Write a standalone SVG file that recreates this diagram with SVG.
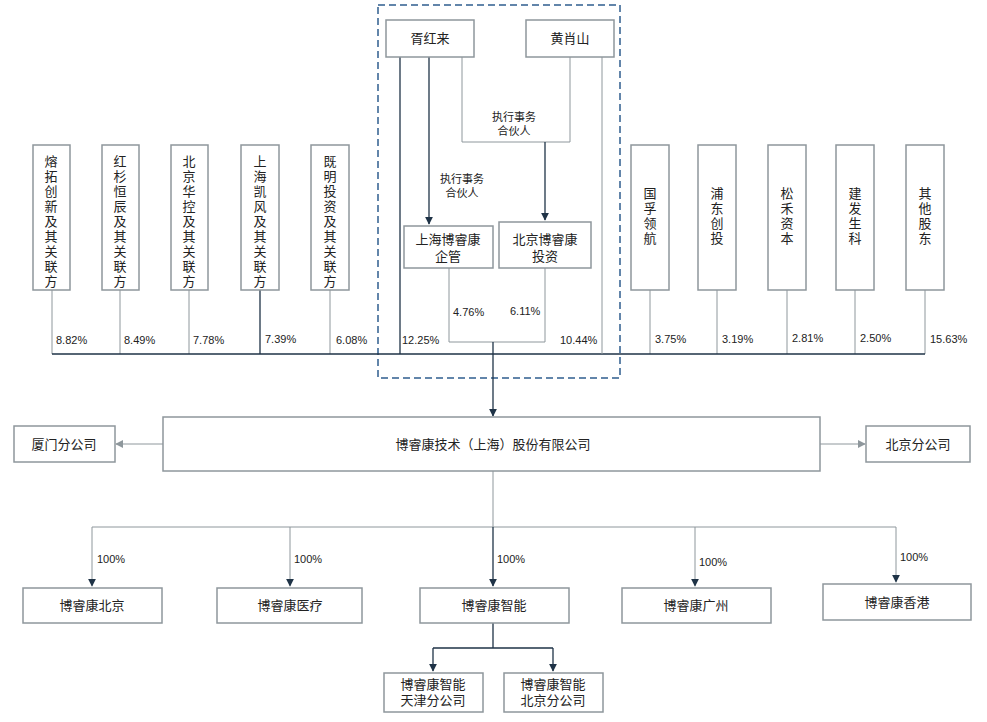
<svg xmlns="http://www.w3.org/2000/svg" width="987" height="722" viewBox="0 0 987 722">
<style>
.b{fill:#fff;stroke:#8e979c;stroke-width:1.5}
.l{fill:none;stroke:#8e979c;stroke-width:1}
.d{fill:none;stroke:#1f3347;stroke-width:1.3}
text{font-family:"Noto Sans CJK SC","Liberation Sans",sans-serif;font-size:13px;fill:#222}
.p{font-family:"Liberation Sans",sans-serif;font-size:11px}
.s{font-size:11px}
.v{font-size:13px;writing-mode:vertical-rl;letter-spacing:2px}
.c{text-anchor:middle}
</style>
<defs><marker id="a" viewBox="0 0 10 10" refX="9" refY="5" markerWidth="8" markerHeight="8" orient="auto" markerUnits="userSpaceOnUse"><path d="M0,0L10,5L0,10z" fill="#1f3347"/></marker>
<marker id="g" viewBox="0 0 10 10" refX="9" refY="5" markerWidth="8" markerHeight="8" orient="auto" markerUnits="userSpaceOnUse"><path d="M0,0L10,5L0,10z" fill="#8e979c"/></marker></defs>
<rect x="378" y="5" width="242" height="373" fill="none" stroke="#2f5e8f" stroke-width="1.5" stroke-dasharray="7,4"/>
<g id="connectors">
<path class="l" d="M52 290V354M120 290V354M189 290V354M330 290V354M650 290V354M717 290V354M787 290V354M855 290V354M925 290V354"/>
<path class="d" d="M260 290V354M52 354H925"/>
<path class="d" d="M400 57V354"/>
<path class="l" d="M602 57V354"/>
<path class="d" d="M429 57V224" marker-end="url(#a)"/>
<path class="l" d="M462 57V142H570V57"/>
<path class="d" d="M545 142V220" marker-end="url(#a)"/>
<path class="l" d="M449 268V342H545V268"/>
<path class="d" d="M493 342V416" marker-end="url(#a)"/>
<path class="l" d="M163 444H116" marker-end="url(#g)"/>
<path class="l" d="M820 444H865" marker-end="url(#g)"/>
<path class="l" d="M493 471V527M92 527H896"/>
<path class="l" d="M92 527V586" marker-end="url(#a)"/>
<path class="l" d="M290 527V586" marker-end="url(#a)"/>
<path class="l" d="M695 527V586" marker-end="url(#a)"/>
<path class="l" d="M896 527V582" marker-end="url(#a)"/>
<path class="d" d="M493 527V586" marker-end="url(#a)"/>
<path class="d" d="M493 623V648M433 648H553"/>
<path class="d" d="M433 648V671" marker-end="url(#a)"/>
<path class="d" d="M553 648V671" marker-end="url(#a)"/>
</g>
<g class="p">
<text x="56" y="344" class="p">8.82%</text><text x="124" y="344" class="p">8.49%</text><text x="193" y="344" class="p">7.78%</text><text x="265" y="343" class="p">7.39%</text><text x="336" y="344" class="p">6.08%</text>
<text x="402" y="344" class="p">12.25%</text><text x="560" y="344" class="p">10.44%</text><text x="453" y="316" class="p">4.76%</text><text x="510" y="315" class="p">6.11%</text>
<text x="655" y="343" class="p">3.75%</text><text x="722" y="343" class="p">3.19%</text><text x="792" y="342" class="p">2.81%</text><text x="860" y="342" class="p">2.50%</text><text x="930" y="343" class="p">15.63%</text>
<text x="97" y="563" class="p">100%</text><text x="294" y="563" class="p">100%</text><text x="497" y="563" class="p">100%</text><text x="699" y="566" class="p">100%</text><text x="900" y="561" class="p">100%</text>
</g>
<text class="s c" x="462" y="183">执行事务</text><text class="s c" x="462" y="197">合伙人</text>
<text class="s c" x="514" y="121">执行事务</text><text class="s c" x="514" y="135">合伙人</text>
<g id="n1"><rect class="b" x="33" y="145" width="37" height="145"/><text class="v" x="51" y="155">熔拓创新及其关联方</text></g>
<g id="n2"><rect class="b" x="102" y="145" width="37" height="145"/><text class="v" x="120" y="155">红杉恒辰及其关联方</text></g>
<g id="n3"><rect class="b" x="171" y="145" width="37" height="145"/><text class="v" x="189" y="155">北京华控及其关联方</text></g>
<g id="n4"><rect class="b" x="241" y="145" width="38" height="145"/><text class="v" x="260" y="155">上海凯风及其关联方</text></g>
<g id="n5"><rect class="b" x="311" y="145" width="38" height="145"/><text class="v" x="330" y="155">既明投资及其关联方</text></g>
<g id="r1"><rect class="b" x="631" y="145" width="38" height="145"/><text class="v" x="650" y="187">国孚领航</text></g>
<g id="r2"><rect class="b" x="698" y="145" width="38" height="145"/><text class="v" x="717" y="187">浦东创投</text></g>
<g id="r3"><rect class="b" x="768" y="145" width="38" height="145"/><text class="v" x="787" y="187">松禾资本</text></g>
<g id="r4"><rect class="b" x="836" y="145" width="38" height="145"/><text class="v" x="855" y="187">建发生科</text></g>
<g id="r5"><rect class="b" x="906" y="145" width="38" height="145"/><text class="v" x="925" y="187">其他股东</text></g>
<g id="xhl"><rect class="b" x="386" y="20" width="88" height="37"/><text class="c" x="430" y="43">胥红来</text></g>
<g id="hxs"><rect class="b" x="526" y="20" width="88" height="37"/><text class="c" x="570" y="43">黄肖山</text></g>
<g id="shbrk"><rect class="b" x="404" y="226" width="89" height="42"/><text class="c" x="448" y="244">上海博睿康</text><text class="c" x="448" y="261">企管</text></g>
<g id="bjbrk"><rect class="b" x="499" y="222" width="92" height="46"/><text class="c" x="545" y="244">北京博睿康</text><text class="c" x="545" y="261">投资</text></g>
<g id="main"><rect class="b" x="163" y="417" width="657" height="54"/><text class="c" x="493" y="449">博睿康技术（上海）股份有限公司</text></g>
<g id="xm"><rect class="b" x="14" y="426" width="101" height="36"/><text class="c" x="64" y="449">厦门分公司</text></g>
<g id="bjfgs"><rect class="b" x="866" y="426" width="104" height="36"/><text class="c" x="918" y="449">北京分公司</text></g>
<g id="c1"><rect class="b" x="23" y="588" width="139" height="35"/><text class="c" x="92" y="610">博睿康北京</text></g>
<g id="c2"><rect class="b" x="217" y="588" width="145" height="35"/><text class="c" x="290" y="610">博睿康医疗</text></g>
<g id="c3"><rect class="b" x="420" y="588" width="149" height="35"/><text class="c" x="494" y="610">博睿康智能</text></g>
<g id="c4"><rect class="b" x="622" y="588" width="149" height="35"/><text class="c" x="696" y="610">博睿康广州</text></g>
<g id="c5"><rect class="b" x="823" y="584" width="148" height="36"/><text class="c" x="897" y="607">博睿康香港</text></g>
<g id="t1"><rect class="b" x="384" y="673" width="99" height="39"/><text class="c" x="433" y="689">博睿康智能</text><text class="c" x="433" y="705">天津分公司</text></g>
<g id="t2"><rect class="b" x="504" y="673" width="99" height="39"/><text class="c" x="553" y="689">博睿康智能</text><text class="c" x="553" y="705">北京分公司</text></g>
</svg>
